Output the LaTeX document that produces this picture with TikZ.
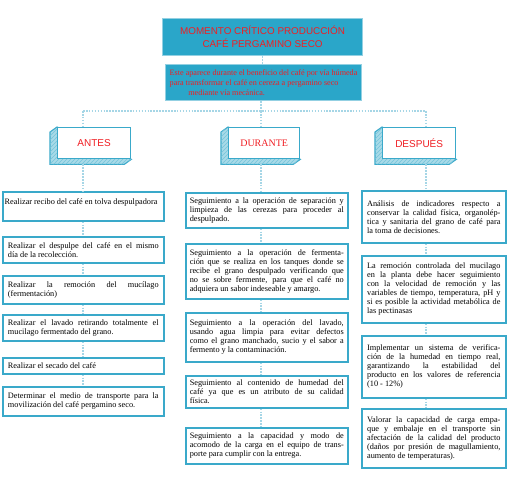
\documentclass[tikz,border=0pt]{standalone}
\usepackage{fontspec}
\setmainfont{Liberation Serif}
\newfontfamily\arialface{Liberation Sans}
\usepackage{tikz}
\usetikzlibrary{positioning,calc,backgrounds,patterns}
\definecolor{boxteal}{HTML}{3AA9CA}
\definecolor{titleteal}{HTML}{2AA6C9}
\definecolor{slabteal}{HTML}{A8DAE8}
\definecolor{linkblue}{HTML}{A6D6E6}
\definecolor{alertred}{HTML}{F01E23}
\newcommand{\taskfont}{\fontsize{6.2}{6.8}\selectfont\tolerance=9999\hyphenpenalty=10000}

\begin{document}
\begin{tikzpicture}[
    x=0.75pt, y=-0.75pt,
    task/.style={
      draw=boxteal, line width=1.2pt, fill=white, anchor=north west,
      font=\taskfont, align=justify, inner ysep=2pt
    },
    acol/.style={task, text width=113pt, inner xsep=3.3pt, minimum width=120.75pt},
    bcol/.style={task, text width=115.5pt, inner xsep=2.5pt, minimum width=121.5pt},
    ccol/.style={task, text width=100pt, inner xsep=3.4pt, minimum width=108pt},
    phase/.style={
      draw=boxteal, line width=1pt, fill=white, anchor=north west,
      minimum height=23.25pt, text=alertred, font=\arialface\fontsize{7.5}{9}\selectfont
    },
    slab/.style={fill=slabteal, draw=boxteal, line width=0.8pt,
      postaction={pattern=north east lines, pattern color=boxteal!70}},
    headbox/.style={fill=titleteal, draw=boxteal!55, line width=0.8pt, anchor=north west, text=alertred},
    link/.style={linkblue, line width=1.2pt, dash pattern=on 1.2pt off 1pt}
  ]

  \useasboundingbox (0,0) rectangle (515,478);
  \begin{scope}[on background layer]
    \fill[white] (0,0) rectangle (515,478);
  \end{scope}

  % --- cabecera ------------------------------------------------------------
  \node[headbox, minimum width=150pt, minimum height=27.75pt, align=center,
        font=\arialface\fontsize{7.4}{9.75}\selectfont] (title) at (162,18)
    {MOMENTO CRÍTICO PRODUCCIÓN\\CAFÉ PERGAMINO SECO};
  \node[headbox, minimum width=147pt, minimum height=27pt, inner xsep=2pt,
        align=left, font=\fontsize{6.1}{7.5}\selectfont] (sub) at (165,64)
    {Este aparece durante el beneficio del café por vía húmeda\\
     para transformar el café en cereza a pergamino seco\\
     \hspace*{14pt}mediante vía mecánica.};

  % --- fases ---------------------------------------------------------------
  \node[phase, minimum width=54.75pt] (antes) at (57,127) {ANTES};
  \node[phase, minimum width=53.25pt, font=\fontsize{7.5}{9}\selectfont] (durante) at (228,127) {DURANTE};
  \node[phase, minimum width=54.75pt] (despues) at (382,127) {DESPUÉS};
  \foreach \n in {antes,durante,despues} {
    \coordinate (\n-back) at ([xshift=-5.25pt,yshift=-3.75pt]\n.south east);
    \coordinate (\n-foot) at ([yshift=-3.75pt]\n.south);
    \begin{scope}[on background layer]
      \draw[slab] (\n.north west) -- ++(-7,5) |- (\n-back) -- (\n.south east) -- cycle;
    \end{scope}
  }

  % --- columna antes -------------------------------------------------------
  \node[acol, minimum height=21.75pt, inner xsep=0.8pt, text width=118pt] (rec) at (2,191)
    {Realizar recibo del café en tolva despulpadora\\\mbox{}};
  \node[acol, minimum height=19.5pt] (desp) at (2,236)
    {Realizar el despulpe del café en el mismo\linebreak día de la recolección.};
  \node[acol, minimum height=21pt] (remo) at (2,275)
    {Realizar la remoción del mucílago\linebreak (fermentación)};
  \node[acol, minimum height=19.5pt] (lava) at (2,314)
    {Realizar el lavado retirando totalmente el\linebreak mucilago fermentado del grano.};
  \node[acol, minimum height=12pt] (seca) at (2,357)
    {Realizar el secado del café};
  \node[acol, minimum height=21.75pt] (trans) at (2,386)
    {Determinar el medio de transporte para la\linebreak movilización del café pergamino seco.};

  % --- columna durante -----------------------------------------------------
  \node[bcol, minimum height=26.25pt] (sep) at (185,192)
    {Seguimiento a la operación de separación y\linebreak limpieza de las cerezas para proceder al\linebreak despulpado.};
  \node[bcol, minimum height=41.25pt] (ferm) at (185,243)
    {Seguimiento a la operación de fermenta-\linebreak ción que se realiza en los tanques donde se\linebreak recibe el grano despulpado verificando que\linebreak no se sobre fermente, para que el café no\linebreak adquiera un sabor indeseable y amargo.};
  \node[bcol, minimum height=36.75pt] (lav) at (185,312)
    {Seguimiento a la operación del lavado,\linebreak usando agua limpia para evitar defectos\linebreak como el grano manchado, sucio y el sabor a\linebreak fermento y la contaminación.};
  \node[bcol, minimum height=24pt] (hum) at (185,375)
    {Seguimiento al contenido de humedad del\linebreak café ya que es un atributo de su calidad\linebreak física.};
  \node[bcol, minimum height=27pt] (carga) at (185,427)
    {Seguimiento a la capacidad y modo de\linebreak acomodo de la carga en el equipo de trans-\linebreak porte para cumplir con la entrega.};

  % --- columna despues -----------------------------------------------------
  \node[ccol, minimum height=39pt] (anal) at (361,190)
    {Análisis de indicadores respecto a\linebreak conservar la calidad física, organolép-\linebreak tica y sanitaria del grano de café para\linebreak la toma de decisiones.};
  \node[ccol, minimum height=50.25pt] (mucil) at (361,255)
    {La remoción controlada del mucilago\linebreak en la planta debe hacer seguimiento\linebreak con la velocidad de remoción y las\linebreak variables de tiempo, temperatura, pH y\linebreak si es posible la actividad metabólica de\linebreak las pectinasas};
  \node[ccol, minimum height=46.5pt] (verif) at (361,335)
    {Implementar un sistema de verifica-\linebreak ción de la humedad en tiempo real,\linebreak garantizando la estabilidad del\linebreak producto en los valores de referencia\linebreak (10 - 12\%)};
  \node[ccol, minimum height=44.25pt] (emb) at (361,408)
    {Valorar la capacidad de carga empa-\linebreak que y embalaje en el transporte sin\linebreak afectación de la calidad del producto\linebreak (daños por presión de magullamiento,\linebreak aumento de temperaturas).};

  % --- conectores punteados ------------------------------------------------
  \coordinate (hub) at (261,111);
  \coordinate (colA) at (83,111);
  \coordinate (colC) at (426,111);
  \draw[link] (title.south) -- (title.south |- sub.north);
  \draw[link] (sub.south -| hub) -- (hub);
  \draw[link] (colA) -- (colC);
  \foreach \c/\h/\f in {colA/antes/rec, hub/durante/sep, colC/despues/anal} {
    \draw[link] (\c) -- (\c |- \h.north);
    \draw[link] (\h-foot -| \c) -- (\c |- \f.north);
  }
  \foreach \c/\u/\l in {colA/rec/desp, colA/desp/remo, colA/remo/lava, colA/lava/seca, colA/seca/trans,
                        hub/sep/ferm, hub/ferm/lav, hub/lav/hum, hub/hum/carga,
                        colC/anal/mucil, colC/mucil/verif, colC/verif/emb}
    {\draw[link] (\u.south -| \c) -- (\l.north -| \c);}

\end{tikzpicture}
\end{document}
